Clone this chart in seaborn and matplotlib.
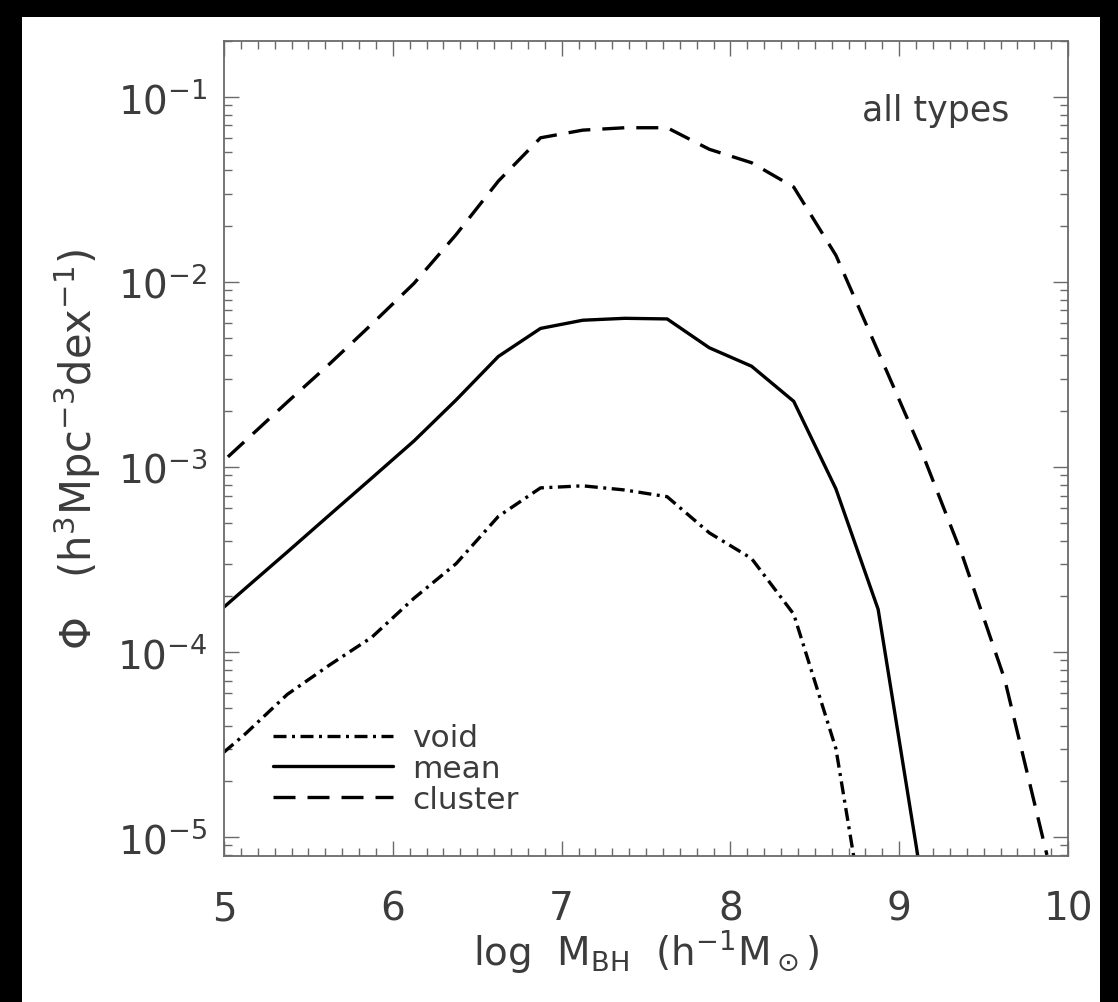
import numpy as np
import pandas as pd
import seaborn as sns
import matplotlib.pyplot as plt
from matplotlib.patches import Rectangle
from matplotlib.ticker import MultipleLocator, LogLocator, NullFormatter

# bin centres in log M_BH (h^-1 Msun)
log_mbh = [4.875, 5.125, 5.375, 5.625, 5.875, 6.125, 6.375, 6.625, 6.875, 7.125,
           7.375, 7.625, 7.875, 8.125, 8.375, 8.625, 8.875, 9.125, 9.375, 9.625, 9.875]

# mass function Phi (h^3 Mpc^-3 dex^-1)
phi_void = [2.3e-5, 3.6e-5, 5.9e-5, 8.5e-5, 1.2e-4, 1.95e-4, 3.0e-4, 5.4e-4, 7.7e-4, 7.9e-4,
            7.5e-4, 6.9e-4, 4.4e-4, 3.2e-4, 1.6e-4, 3.0e-5, 1.25e-6, None, None, None, None]
phi_mean = [1.39e-4, 2.2e-4, 3.47e-4, 5.5e-4, 8.7e-4, 1.38e-3, 2.3e-3, 3.95e-3, 5.6e-3, 6.2e-3,
            6.35e-3, 6.3e-3, 4.4e-3, 3.5e-3, 2.26e-3, 7.6e-4, 1.7e-4, 6.5e-6, None, None, None]
phi_cluster = [8.5e-4, 1.38e-3, 2.24e-3, 3.6e-3, 5.9e-3, 9.8e-3, 1.8e-2, 3.5e-2, 6.0e-2, 6.6e-2,
               6.8e-2, 6.8e-2, 5.2e-2, 4.4e-2, 3.25e-2, 1.39e-2, 4.2e-3, 1.26e-3, 3.3e-4, 7.1e-5, 8.0e-6]

env_order = ["void", "mean", "cluster"]

frames = []
for name, vals in zip(env_order, [phi_void, phi_mean, phi_cluster]):
    d = pd.DataFrame({"logM": log_mbh, "phi": vals, "env": name}).dropna()
    frames.append(d)
df = pd.concat(frames, ignore_index=True)

sns.set_theme(style="ticks")
plt.rcParams["font.family"] = ["DejaVu Sans"]
plt.rcParams["mathtext.fontset"] = "dejavusans"
txt_color = "#3c3c3c"
axis_color = "#6a6a6a"

fig = plt.figure(figsize=(11.18, 10.03), dpi=100, facecolor="black")
# white page on black surround
fig.patches.append(Rectangle((22 / 1118, 0), (1100 - 22) / 1118, 1 - 18 / 1003,
                             transform=fig.transFigure, facecolor="white",
                             edgecolor="none", zorder=-10))
ax = fig.add_axes([0.2004, 0.1456, 0.7549, 0.8125])

lw = 2.4
sns.lineplot(data=df, x="logM", y="phi", style="env", style_order=env_order,
             dashes={"void": (3.9, 1.65, 0.9, 1.65), "mean": "", "cluster": (6.6, 3.6)},
             color="black", linewidth=lw, estimator=None, sort=False, ax=ax)

ax.set_yscale("log")
ax.set_xlim(5, 10)
ax.set_ylim(7.9e-6, 0.2)

ax.xaxis.set_major_locator(MultipleLocator(1))
ax.xaxis.set_minor_locator(MultipleLocator(0.1))
ax.yaxis.set_major_locator(LogLocator(base=10, numticks=10))
ax.yaxis.set_minor_locator(LogLocator(base=10, subs=np.arange(2, 10), numticks=10))
ax.yaxis.set_minor_formatter(NullFormatter())

ax.tick_params(which="both", direction="in", top=True, right=True,
               color=axis_color, labelcolor=txt_color)
ax.tick_params(which="major", length=11, width=1.0, labelsize=28)
ax.tick_params(which="minor", length=5.5, width=1.0)
ax.tick_params(axis="x", which="major", pad=24)
ax.tick_params(axis="y", which="major", pad=12)
for s in ax.spines.values():
    s.set_color(axis_color)
    s.set_linewidth(1.3)

ax.set_xlabel(r"log  M$_{\rm BH}$  (h$^{-1}$M$_\odot$)", fontsize=28, color=txt_color, labelpad=0)
ax.set_ylabel(r"$\Phi$   (h$^3$Mpc$^{-3}$dex$^{-1}$)", fontsize=30, color=txt_color, labelpad=10)

ax.text(0.931, 0.915, "all types", transform=ax.transAxes, ha="right", va="center",
        fontsize=25, color=txt_color)

h, l = ax.get_legend_handles_labels()
ax.get_legend().remove()
leg = ax.legend(h, l, loc="lower left", bbox_to_anchor=(0.058, 0.052), frameon=False,
                fontsize=22.5, handlelength=3.85, handletextpad=0.6, labelspacing=0.05,
                borderpad=0, borderaxespad=0)
for t in leg.get_texts():
    t.set_color(txt_color)

fig.savefig("out.png", dpi=100, facecolor=fig.get_facecolor())
